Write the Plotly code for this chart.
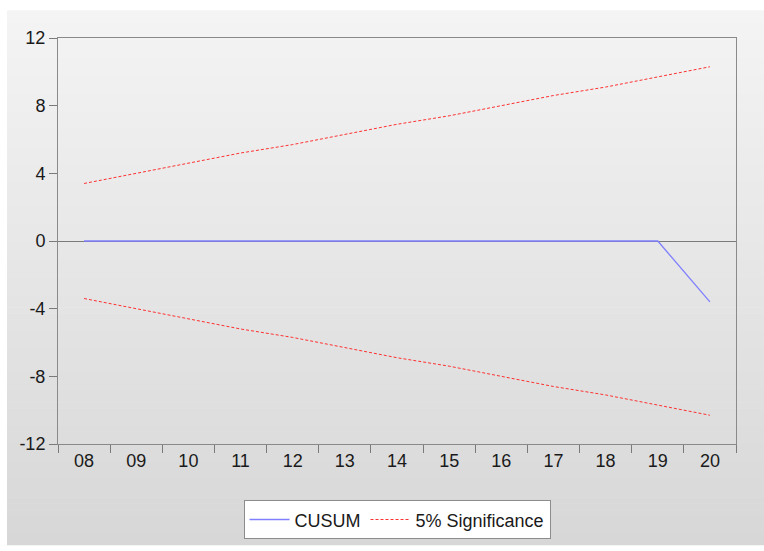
import plotly.graph_objects as go

# Sample periods (two-digit years) on the horizontal axis
periods = ["08", "09", "10", "11", "12", "13", "14", "15", "16", "17", "18", "19", "20"]

# Cumulative sum of recursive residuals
cusum = [0.0, 0.0, 0.0, 0.0, 0.0, 0.0, 0.0, 0.0, 0.0, 0.0, 0.0, 0.0, -3.6]

# 5% significance bounds
upper_bound = [3.4, 4.0, 4.6, 5.2, 5.7, 6.3, 6.9, 7.4, 8.0, 8.6, 9.1, 9.7, 10.3]
lower_bound = [-3.4, -4.0, -4.6, -5.2, -5.7, -6.3, -6.9, -7.4, -8.0, -8.6, -9.1, -9.7, -10.3]

y_ticks = [-12, -8, -4, 0, 4, 8, 12]

W, H = 764, 551
ML, MR, MT, MB = 58, 28, 38, 102
plot_w = W - ML - MR
plot_h = H - MT - MB


def px_to_paper_x(px):
    return (px - ML) / plot_w


def px_to_paper_y(py):
    return (H - MB - py) / plot_h


fig = go.Figure()

fig.add_trace(go.Scatter(
    x=periods, y=cusum, mode="lines", name="CUSUM",
    line=dict(color="#7f7fff", width=1.3),
))
fig.add_trace(go.Scatter(
    x=periods, y=upper_bound, mode="lines", name="5% Significance",
    line=dict(color="#ff3030", width=1, dash="3px,2px"),
))
fig.add_trace(go.Scatter(
    x=periods, y=lower_bound, mode="lines", name="5% Significance",
    line=dict(color="#ff3030", width=1, dash="3px,2px"), showlegend=False,
))

# Vertical grey gradient panel behind the chart
shapes = []
top_px, bot_px = 10, H
n_strips = 90
c_top, c_bot = 0xF4, 0xD7
for i in range(n_strips):
    y0p = top_px + (bot_px - top_px) * i / n_strips
    y1p = top_px + (bot_px - top_px) * (i + 1) / n_strips
    t = (i + 0.5) / n_strips
    c = round(c_top + (c_bot - c_top) * t)
    shapes.append(dict(
        type="rect", xref="paper", yref="paper", layer="below",
        x0=px_to_paper_x(7), x1=px_to_paper_x(W + 2),
        y0=px_to_paper_y(y1p + 0.6), y1=px_to_paper_y(y0p),
        fillcolor=f"rgb({c},{c},{c})", line=dict(width=0),
    ))

fig.update_layout(
    width=W, height=H,
    margin=dict(l=ML, r=MR, t=MT, b=MB),
    paper_bgcolor="white",
    plot_bgcolor="white",
    shapes=shapes,
    font=dict(family="Liberation Sans, Arial, sans-serif", size=18, color="#1a1a1a"),
    showlegend=True,
    legend=dict(
        orientation="h", x=0.5, xanchor="center",
        y=px_to_paper_y(506), yanchor="top",
        bgcolor="white", bordercolor="#8c8c8c", borderwidth=1,
        font=dict(size=18, color="#1a1a1a"),
        itemwidth=40,
    ),
    xaxis=dict(
        type="category", categoryorder="array", categoryarray=periods,
        range=[-0.5, len(periods) - 0.5],
        tickson="boundaries", ticks="outside", ticklen=8, tickcolor="#7a7a7a",
        showline=True, linecolor="#8a8a8a", linewidth=1, mirror=True,
        showgrid=False, zeroline=False,
        tickfont=dict(size=18),
    ),
    yaxis=dict(
        range=[-12, 12], tickvals=y_ticks, ticktext=[str(v) for v in y_ticks],
        ticks="outside", ticklen=8, tickcolor="#7a7a7a",
        showline=True, linecolor="#8a8a8a", linewidth=1, mirror=True,
        showgrid=False, zeroline=True, zerolinecolor="#7a7a7a", zerolinewidth=1,
        tickfont=dict(size=18),
    ),
)

fig.write_html("out.html")
